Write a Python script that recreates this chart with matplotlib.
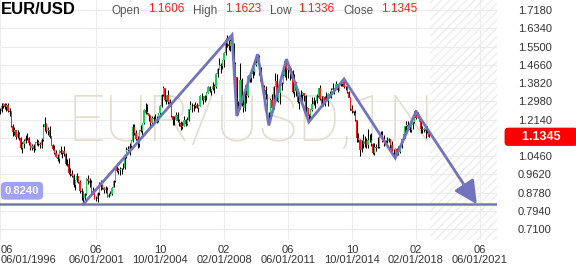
import matplotlib.pyplot as plt
import matplotlib.transforms as mtransforms
import numpy as np
import pandas as pd

# monthly EUR/USD candles, Jun 1996 .. Oct 2018
months = pd.date_range("1996-06-01", "2018-10-01", freq="MS")
first_open = 1.255
closes = [
    1.253, 1.278, 1.285, 1.270, 1.280, 1.255, 1.250,  # 1996
    1.186, 1.156, 1.165, 1.133, 1.148, 1.128, 1.085, 1.103, 1.116, 1.130, 1.128, 1.105,  # 1997
    1.082, 1.090, 1.078, 1.104, 1.112, 1.100, 1.098, 1.120, 1.180, 1.192, 1.160, 1.167,  # 1998
    1.132, 1.098, 1.077, 1.058, 1.042, 1.034, 1.069, 1.060, 1.069, 1.053, 1.010, 1.007,  # 1999
    0.970, 0.964, 0.956, 0.911, 0.935, 0.952, 0.927, 0.885, 0.882, 0.851, 0.870, 0.939,  # 2000
    0.933, 0.921, 0.878, 0.886, 0.847, 0.849, 0.877, 0.911, 0.911, 0.901, 0.890, 0.890,  # 2001
    0.859, 0.868, 0.872, 0.901, 0.933, 0.990, 0.978, 0.982, 0.986, 0.989, 0.991, 1.049,  # 2002
    1.073, 1.079, 1.090, 1.117, 1.181, 1.150, 1.124, 1.100, 1.165, 1.159, 1.200, 1.260,  # 2003
    1.245, 1.245, 1.230, 1.197, 1.220, 1.215, 1.202, 1.217, 1.242, 1.277, 1.328, 1.357,  # 2004
    1.304, 1.325, 1.296, 1.287, 1.230, 1.210, 1.212, 1.234, 1.205, 1.198, 1.178, 1.184,  # 2005
    1.213, 1.192, 1.212, 1.262, 1.282, 1.279, 1.277, 1.282, 1.268, 1.276, 1.320, 1.320,  # 2006
    1.303, 1.323, 1.336, 1.365, 1.345, 1.354, 1.369, 1.365, 1.425, 1.448, 1.464, 1.459,  # 2007
    1.486, 1.518, 1.578, 1.561, 1.554, 1.575, 1.561, 1.470, 1.409, 1.274, 1.270, 1.397,  # 2008
    1.280, 1.266, 1.325, 1.323, 1.414, 1.403, 1.425, 1.434, 1.464, 1.472, 1.500, 1.432,  # 2009
    1.386, 1.363, 1.351, 1.329, 1.227, 1.224, 1.305, 1.268, 1.363, 1.392, 1.299, 1.337,  # 2010
    1.370, 1.380, 1.416, 1.481, 1.440, 1.450, 1.439, 1.438, 1.339, 1.386, 1.346, 1.296,  # 2011
    1.308, 1.325, 1.334, 1.323, 1.236, 1.266, 1.231, 1.258, 1.286, 1.297, 1.299, 1.320,  # 2012
    1.358, 1.307, 1.282, 1.317, 1.300, 1.301, 1.330, 1.322, 1.352, 1.358, 1.359, 1.376,  # 2013
    1.349, 1.380, 1.377, 1.387, 1.363, 1.369, 1.339, 1.313, 1.262, 1.253, 1.245, 1.210,  # 2014
    1.129, 1.120, 1.073, 1.120, 1.099, 1.115, 1.098, 1.121, 1.118, 1.100, 1.059, 1.086,  # 2015
    1.083, 1.087, 1.138, 1.145, 1.113, 1.110, 1.117, 1.116, 1.124, 1.098, 1.059, 1.052,  # 2016
    1.080, 1.058, 1.065, 1.089, 1.124, 1.143, 1.184, 1.191, 1.181, 1.164, 1.190, 1.201,  # 2017
    1.241, 1.219, 1.232, 1.208, 1.169, 1.168, 1.169, 1.160, 1.1606, 1.1345,  # 2018
]
highs = [
    1.265, 1.290, 1.292, 1.288, 1.292, 1.290, 1.268,
    1.252, 1.195, 1.180, 1.168, 1.165, 1.158, 1.135, 1.112, 1.125, 1.145, 1.150, 1.135,
    1.110, 1.100, 1.102, 1.112, 1.125, 1.118, 1.110, 1.128, 1.195, 1.225, 1.200, 1.180,
    1.185, 1.140, 1.102, 1.095, 1.075, 1.055, 1.075, 1.090, 1.072, 1.090, 1.062, 1.032,
    1.035, 0.990, 0.982, 0.965, 0.937, 0.966, 0.955, 0.935, 0.900, 0.885, 0.876, 0.945,
    0.958, 0.944, 0.935, 0.902, 0.895, 0.862, 0.882, 0.925, 0.935, 0.918, 0.905, 0.906,
    0.905, 0.877, 0.884, 0.905, 0.936, 0.995, 1.015, 0.989, 0.995, 0.989, 1.015, 1.049,
    1.087, 1.094, 1.108, 1.120, 1.193, 1.193, 1.165, 1.140, 1.166, 1.189, 1.200, 1.263,
    1.290, 1.286, 1.239, 1.233, 1.229, 1.229, 1.240, 1.232, 1.244, 1.281, 1.330, 1.367,
    1.358, 1.327, 1.349, 1.310, 1.290, 1.232, 1.231, 1.250, 1.250, 1.217, 1.205, 1.201,
    1.230, 1.218, 1.226, 1.263, 1.298, 1.288, 1.284, 1.294, 1.289, 1.281, 1.326, 1.335,
    1.323, 1.325, 1.339, 1.368, 1.368, 1.354, 1.385, 1.378, 1.427, 1.450, 1.497, 1.476,
    1.490, 1.524, 1.590, 1.602, 1.580, 1.584, 1.604, 1.566, 1.480, 1.410, 1.300, 1.473,
    1.403, 1.307, 1.373, 1.350, 1.418, 1.431, 1.425, 1.444, 1.478, 1.508, 1.514, 1.509,
    1.457, 1.397, 1.373, 1.369, 1.332, 1.247, 1.315, 1.333, 1.366, 1.426, 1.423, 1.345,
    1.375, 1.386, 1.425, 1.488, 1.494, 1.460, 1.458, 1.453, 1.441, 1.424, 1.387, 1.355,
    1.323, 1.348, 1.339, 1.335, 1.328, 1.270, 1.239, 1.264, 1.317, 1.317, 1.305, 1.331,
    1.359, 1.371, 1.320, 1.320, 1.324, 1.342, 1.334, 1.345, 1.358, 1.383, 1.361, 1.389,
    1.377, 1.382, 1.397, 1.399, 1.399, 1.368, 1.370, 1.344, 1.318, 1.283, 1.255, 1.257,
    1.211, 1.153, 1.123, 1.122, 1.147, 1.138, 1.128, 1.171, 1.146, 1.150, 1.104, 1.106,
    1.100, 1.134, 1.140, 1.162, 1.162, 1.142, 1.120, 1.134, 1.128, 1.125, 1.115, 1.079,
    1.082, 1.083, 1.091, 1.095, 1.126, 1.147, 1.184, 1.207, 1.209, 1.188, 1.194, 1.204,
    1.254, 1.256, 1.248, 1.240, 1.210, 1.185, 1.175, 1.174, 1.182, 1.1623,
]
lows = [
    1.240, 1.250, 1.268, 1.262, 1.255, 1.250, 1.232,
    1.180, 1.140, 1.145, 1.125, 1.128, 1.122, 1.078, 1.058, 1.085, 1.105, 1.120, 1.095,
    1.075, 1.072, 1.066, 1.072, 1.095, 1.090, 1.085, 1.082, 1.115, 1.160, 1.150, 1.145,
    1.128, 1.095, 1.073, 1.055, 1.040, 1.025, 1.012, 1.055, 1.035, 1.047, 1.005, 1.000,
    0.965, 0.955, 0.950, 0.905, 0.888, 0.928, 0.920, 0.876, 0.845, 0.824, 0.840, 0.867,
    0.915, 0.905, 0.872, 0.873, 0.846, 0.840, 0.836, 0.868, 0.890, 0.895, 0.875, 0.876,
    0.857, 0.859, 0.865, 0.866, 0.903, 0.928, 0.973, 0.965, 0.960, 0.963, 0.988, 0.985,
    1.037, 1.068, 1.050, 1.075, 1.112, 1.141, 1.120, 1.084, 1.086, 1.156, 1.139, 1.195,
    1.238, 1.240, 1.208, 1.176, 1.190, 1.201, 1.202, 1.198, 1.204, 1.227, 1.271, 1.320,
    1.301, 1.285, 1.287, 1.277, 1.227, 1.187, 1.187, 1.211, 1.201, 1.184, 1.164, 1.171,
    1.182, 1.186, 1.189, 1.207, 1.262, 1.250, 1.252, 1.266, 1.266, 1.250, 1.274, 1.303,
    1.287, 1.293, 1.304, 1.334, 1.341, 1.329, 1.350, 1.337, 1.361, 1.408, 1.446, 1.429,
    1.445, 1.456, 1.513, 1.548, 1.534, 1.531, 1.548, 1.462, 1.391, 1.233, 1.240, 1.262,
    1.274, 1.248, 1.255, 1.290, 1.316, 1.385, 1.385, 1.405, 1.421, 1.461, 1.469, 1.420,
    1.385, 1.343, 1.330, 1.309, 1.214, 1.188, 1.218, 1.266, 1.264, 1.369, 1.298, 1.295,
    1.287, 1.349, 1.384, 1.409, 1.395, 1.404, 1.395, 1.404, 1.335, 1.319, 1.322, 1.290,
    1.263, 1.300, 1.300, 1.300, 1.236, 1.229, 1.204, 1.213, 1.255, 1.279, 1.269, 1.290,
    1.317, 1.306, 1.274, 1.275, 1.275, 1.299, 1.275, 1.318, 1.311, 1.349, 1.332, 1.353,
    1.340, 1.349, 1.370, 1.368, 1.359, 1.350, 1.338, 1.318, 1.257, 1.246, 1.236, 1.209,
    1.110, 1.110, 1.046, 1.066, 1.082, 1.089, 1.081, 1.085, 1.109, 1.094, 1.055, 1.052,
    1.071, 1.082, 1.081, 1.130, 1.109, 1.091, 1.095, 1.108, 1.112, 1.085, 1.055, 1.035,
    1.034, 1.049, 1.052, 1.058, 1.085, 1.112, 1.131, 1.166, 1.172, 1.157, 1.155, 1.171,
    1.196, 1.215, 1.221, 1.207, 1.151, 1.151, 1.157, 1.130, 1.151, 1.1336,
]

# last quote shown in header
last_open, last_high, last_low, last_close = 1.1606, 1.1623, 1.1336, 1.1345
support_level = 0.8240

# hand drawn zigzag trend line
zigzag_dates = ["2000-10", "2008-07", "2008-10", "2009-11", "2010-06", "2011-05",
                "2012-07", "2014-05", "2017-01", "2018-02", "2021-04"]
zigzag_prices = [0.824, 1.603, 1.230, 1.515, 1.187, 1.492, 1.203, 1.400, 1.037, 1.250, 0.824]

tick_dates = ["1996-06", "2001-06", "2004-10", "2008-02", "2011-06", "2014-10", "2018-02", "2021-06"]
price_ticks = [1.7180, 1.6340, 1.5500, 1.4660, 1.3820, 1.2980, 1.2140, 1.1300,
               1.0460, 0.9620, 0.8780, 0.7940, 0.7100]


def month_index(d):
    d = pd.Timestamp(d)
    return (d.year - 1996) * 12 + d.month - 1


plt.rcParams["font.family"] = ["Liberation Sans", "DejaVu Sans"]
plt.rcParams["hatch.linewidth"] = 0.8

W, H = 576, 268
fig = plt.figure(figsize=(W / 100, H / 100), dpi=100)
ax_left, ax_right, ax_top, ax_bottom = 0, 497, 0, 240
ax = fig.add_axes([ax_left / W, 1 - ax_bottom / H, (ax_right - ax_left) / W, (ax_bottom - ax_top) / H])
ax.set_xlim(5, 315.6)
ax.set_ylim(0.6595, 1.764)
for s in ax.spines.values():
    s.set_visible(False)

x = np.array([month_index(m) for m in months])
c = np.array(closes)
o = np.array([first_open] + closes[:-1])
hi = np.array(highs)
lo = np.array(lows)
up = c >= o

# grid
ax.set_yticks(price_ticks)
ax.set_yticklabels(["" if abs(p - 1.13) < 1e-6 else f"{p:.4f}" for p in price_ticks])
ax.yaxis.tick_right()
ax.tick_params(axis="y", length=0, pad=15, labelsize=8, labelcolor="#333333")
xt = [month_index(d) for d in tick_dates]
ax.set_xticks(xt)
ax.set_xticklabels([])
ax.tick_params(axis="x", length=0)
ax.grid(True, color="#ececec", lw=0.8, zorder=0)
ax.set_axisbelow(True)

# x labels, two rows
blend = mtransforms.blended_transform_factory(ax.transData, fig.transFigure)
for d, xi in zip(tick_dates, xt):
    ts = pd.Timestamp(d)
    first = xi == xt[0]
    kw = dict(ha="left" if first else "center", va="center", fontsize=8, color="#333333")
    if first:
        ax.text(0.5 / W, 1 - 250 / H, ts.strftime("%m"), transform=fig.transFigure, **kw)
        ax.text(0.5 / W, 1 - 260 / H, ts.strftime("%m/%d/%Y"), transform=fig.transFigure, **kw)
    else:
        ax.text(xi, 1 - 250 / H, ts.strftime("%m"), transform=blend, clip_on=False, **kw)
        ax.text(xi, 1 - 260 / H, ts.strftime("%m/%d/%Y"), transform=blend, clip_on=False, **kw)

# future zone
ax.axvspan(x[-1] + 0.8, 315.6, facecolor="none", edgecolor="#ebebeb", hatch="////", lw=0, zorder=0.5)

# watermark
ax.text(0.505, 0.49, "EUR/USD,1N", transform=ax.transAxes, ha="center", va="center",
        fontsize=47, family="Roboto", fontweight="light", color="#e3ddcc", zorder=0.8)

# candles
ax.vlines(x, lo, hi, color="black", lw=0.75, zorder=2)
body_lo = np.minimum(o, c)
body_h = np.maximum(np.abs(c - o), 0.002)
ax.bar(x, body_h, bottom=body_lo, width=0.7, color=np.where(up, "#1fcf5a", "#ff1a1a"),
       lw=0, zorder=3)

# support line and its label
ax.axhline(support_level, color="#7476bb", lw=1.8, zorder=4)
ax.annotate(f"{support_level:.4f}", xy=(22 / 497, support_level),
            xycoords=mtransforms.blended_transform_factory(ax.transAxes, ax.transData),
            xytext=(0, 13.5), textcoords="offset pixels",
            ha="center", va="center", fontsize=8, fontweight="bold", color="white", zorder=6,
            bbox=dict(boxstyle="round,pad=0.35,rounding_size=0.4", fc="#a0a2f4", ec="none"))

# zigzag with arrow head
zx = [month_index(d) for d in zigzag_dates]
ax.plot(zx[:-1], zigzag_prices[:-1], color="#7173bd", lw=2.0, zorder=5,
        solid_joinstyle="miter")
ax.annotate("", xy=(zx[-1], zigzag_prices[-1]), xytext=(zx[-2], zigzag_prices[-2]),
            arrowprops=dict(arrowstyle="-|>,head_length=1.0,head_width=0.5", color="#7173bd",
                            lw=2.0, shrinkA=0, shrinkB=0, mutation_scale=14), zorder=5)

# last price tag on the right axis
yblend = mtransforms.blended_transform_factory(fig.transFigure, ax.transData)
ax.text(541 / W, last_close, "    " + f"{last_close:.4f}" + "    ", transform=yblend, ha="center",
        va="center", fontsize=9, fontweight="bold", color="white", zorder=7, clip_on=False,
        bbox=dict(boxstyle="round,pad=0.25,rounding_size=0.3", fc="#ff0000", ec="none"))
ax.plot([508.5 / W], [last_close], marker="<", ms=5, color="#ff0000", transform=yblend,
        clip_on=False, zorder=7)

# header
fig.text(1 / W, 1 - 10 / H, "EUR/USD", fontsize=12, fontweight="bold", color="black",
         ha="left", va="center")
header = [("Open", last_open, 111, 148), ("High", last_high, 193, 225),
          ("Low", last_low, 270, 298), ("Close", last_close, 343, 381)]
for lab, val, xl, xv in header:
    fig.text(xl / W, 1 - 11 / H, lab, fontsize=8.5, color="#555555", ha="left", va="center")
    fig.text(xv / W, 1 - 9 / H, f"{val:.4f}", fontsize=8.5, color="#ff2020", ha="left", va="center")

fig.savefig("out.png", dpi=100)
